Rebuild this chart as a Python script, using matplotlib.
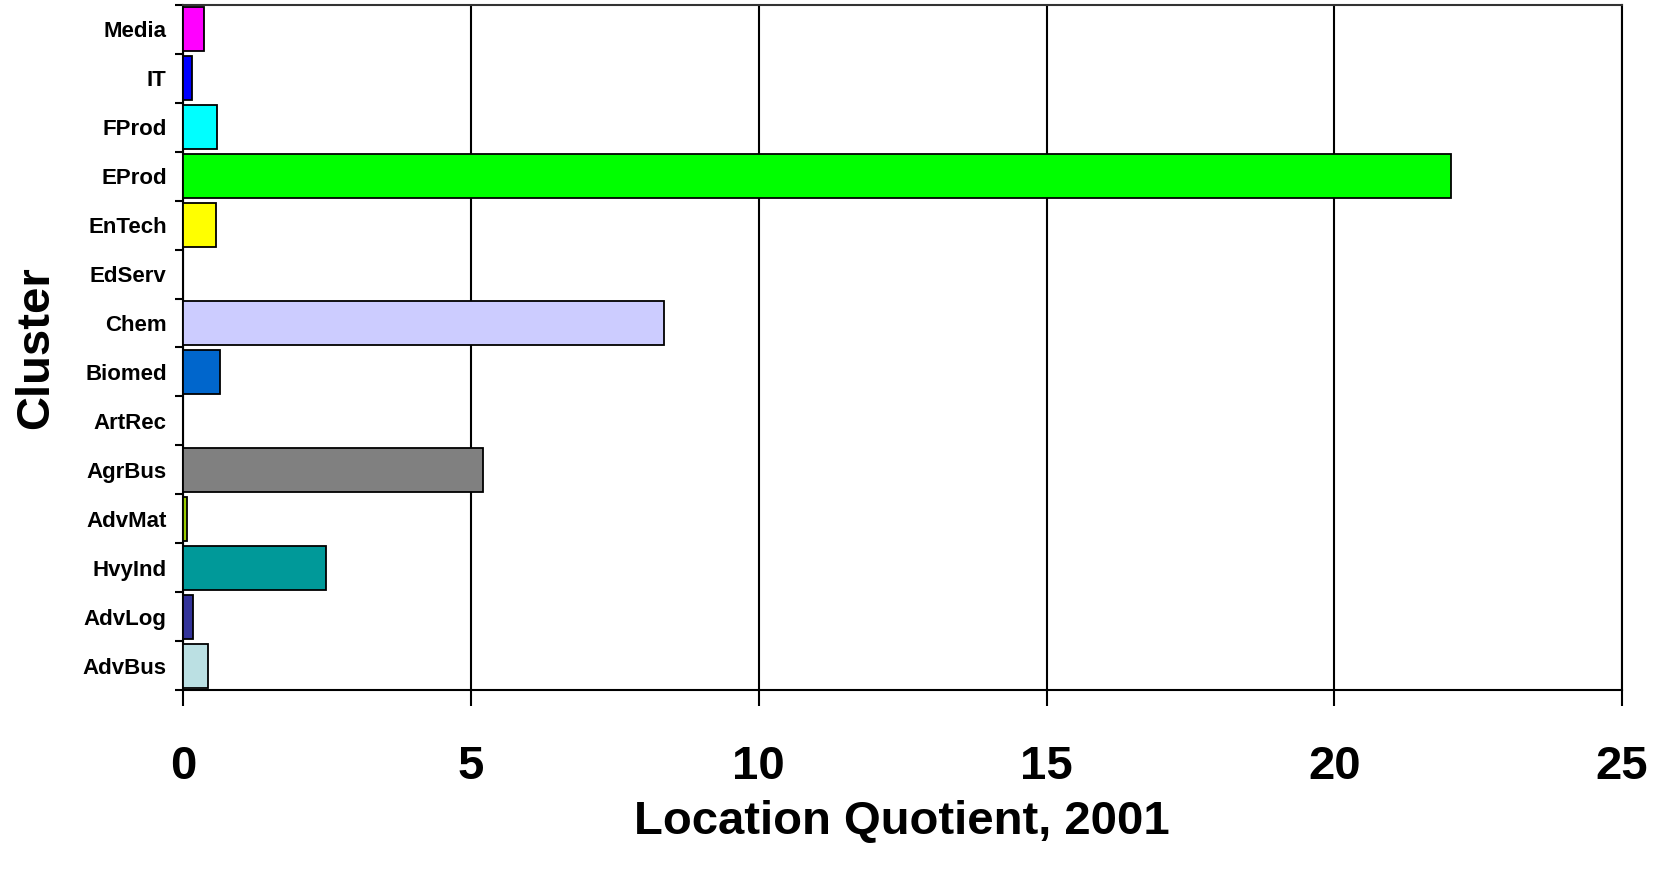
import numpy as np
import matplotlib
matplotlib.use('Agg')
import matplotlib.pyplot as plt

plt.rcParams['font.family'] = ['Liberation Sans', 'DejaVu Sans']
plt.rcParams['font.weight'] = 'bold'

# bottom to top
clusters = ['AdvBus', 'AdvLog', 'HvyInd', 'AdvMat', 'AgrBus', 'ArtRec', 'Biomed',
            'Chem', 'EdServ', 'EnTech', 'EProd', 'FProd', 'IT', 'Media']
lq_2001 = [0.42, 0.17, 2.47, 0.07, 5.2, 0.0, 0.63,
           8.36, 0.0, 0.56, 22.03, 0.59, 0.145, 0.35]
bar_colors = ['#BBE0E3', '#333399', '#009999', '#99CC00', '#808080', '#FFFFFF', '#0066CC',
              '#CCCCFF', '#FFFFFF', '#FFFF00', '#00FF00', '#00FFFF', '#0000FF', '#FF00FF']
x_ticks = [0, 5, 10, 15, 20, 25]

fig = plt.figure(figsize=(16.67, 8.71), dpi=100)
ax = fig.add_axes([0.110, 0.2078, 0.863, 0.7865])

y = np.arange(len(clusters))
for yi, v, c in zip(y, lq_2001, bar_colors):
    if v > 0:
        ax.barh(yi, v, height=0.9, color=c, edgecolor='black', linewidth=1.3, zorder=3)

ax.set_xlim(0, 25)
ax.set_ylim(-0.5, len(clusters) - 0.5)

ax.set_xticks(x_ticks)
ax.set_xticklabels([str(t) for t in x_ticks], fontsize=34, fontweight='bold')
ax.tick_params(axis='x', direction='out', length=11.5, width=1.5, pad=28)
ax.grid(axis='x', color='black', linewidth=1.5, zorder=1)

ax.set_yticks(y)
ax.set_yticklabels(clusters, fontsize=16, fontweight='bold')
ax.set_yticks(np.arange(len(clusters) + 1) - 0.5, minor=True)
ax.tick_params(axis='y', which='major', length=0, pad=12)
ax.tick_params(axis='y', which='minor', direction='out', length=5.5, width=1.5)

for s in ['left', 'bottom', 'right']:
    ax.spines[s].set_color('black')
    ax.spines[s].set_linewidth(1.5)
ax.spines['top'].set_color('#333333')
ax.spines['top'].set_linewidth(1.5)

fig.text(0.541, 0.056, 'Location Quotient, 2001', fontsize=34, fontweight='bold',
         ha='center', va='center')
fig.text(0.0215, 0.601, 'Cluster', fontsize=34, fontweight='bold',
         ha='center', va='center', rotation=90)

fig.savefig('out.png', dpi=100)
